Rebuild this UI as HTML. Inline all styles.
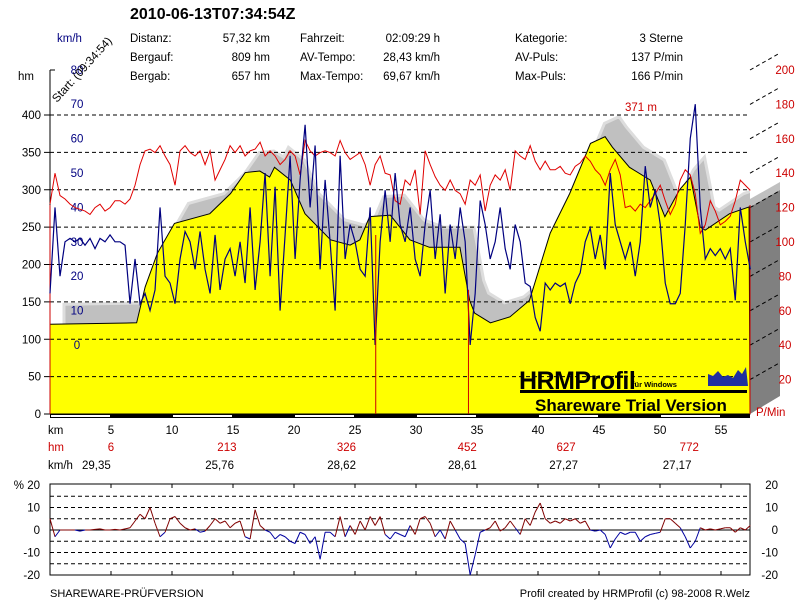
<!DOCTYPE html>
<html><head><meta charset="utf-8"><style>
body{margin:0;background:#fff;}
svg{display:block;font-family:"Liberation Sans",Arial,sans-serif;}
</style></head><body>
<svg id="c" width="800" height="600" viewBox="0 0 800 600">
<defs><clipPath id="plotclip"><rect x="50" y="60" width="700" height="354"/></clipPath></defs>
<rect width="800" height="600" fill="#fff"/>
<text x="130" y="19" font-size="16" font-weight="bold">2010-06-13T07:34:54Z</text>
<g font-size="11.5">
<text x="130" y="42">Distanz:</text><text x="270" y="42" text-anchor="end">57,32 km</text>
<text x="130" y="61">Bergauf:</text><text x="270" y="61" text-anchor="end">809 hm</text>
<text x="130" y="80">Bergab:</text><text x="270" y="80" text-anchor="end">657 hm</text>
<text x="300" y="42">Fahrzeit:</text><text x="440" y="42" text-anchor="end">02:09:29 h</text>
<text x="300" y="61">AV-Tempo:</text><text x="440" y="61" text-anchor="end">28,43 km/h</text>
<text x="300" y="80">Max-Tempo:</text><text x="440" y="80" text-anchor="end">69,67 km/h</text>
<text x="515" y="42">Kategorie:</text><text x="683" y="42" text-anchor="end">3 Sterne</text>
<text x="515" y="61">AV-Puls:</text><text x="683" y="61" text-anchor="end">137 P/min</text>
<text x="515" y="80">Max-Puls:</text><text x="683" y="80" text-anchor="end">166 P/min</text>
</g>
<text x="57" y="42" font-size="11.5" fill="#000080">km/h</text>
<text x="18" y="80" font-size="11.5">hm</text>
<g id="main"></g>
<g id="bottom"></g>
<text x="50" y="597" font-size="11">SHAREWARE-PRÜFVERSION</text>
<text x="750" y="597" font-size="11" text-anchor="end">Profil created by HRMProfil (c) 98-2008 R.Welz</text>
</svg>
<script>
const elevKm=[0,7.1,7.8,8.8,10.2,13.1,14.8,16,17.2,18,18.4,19.7,20.9,23,24.6,25.4,26.2,27.9,29.5,31.1,33.6,34.4,34.8,36.1,37.7,39.3,41,42.6,44.3,45.5,46.1,47.5,49.2,50.4,51.6,52.5,53.3,53.7,55.7,57.3];
const elevHm=[120,122,170,215,255,268,295,323,325,317,330,313,268,233,226,233,264,266,233,223,223,152,135,122,130,152,242,295,362,371,357,330,313,264,300,317,250,246,268,277];
const sampleStepKm=0.41;
const speedKmh=[15,40,20,30,31,30,31,29,31,28,31,30,32,30,30,29,12,25,12,15,10,16,40,20,18,12,25,33,30,22,33,22,15,32,16,25,28,20,30,18,40,16,30,50,20,46,10,32,55,25,48,64,40,58,22,48,30,10,55,25,35,30,22,20,40,0,30,45,30,50,35,30,40,25,20,35,45,25,38,15,35,25,40,30,0,15,42,35,25,30,40,28,22,35,30,18,17,8,4,18,16,18,17,18,12,18,21,30,34,25,32,22,50,35,30,25,30,20,30,52,40,45,35,18,12,12,15,35,60,70,40,25,28,26,28,25,28,13,40,30,22];
const heartRate=[122,140,127,125,122,120,119,118,116,120,122,118,120,124,124,122,125,133,145,153,154,152,156,150,145,133,153,156,152,150,153,145,153,136,142,148,156,152,156,150,153,154,158,150,153,150,145,148,153,150,139,159,153,150,152,153,152,150,159,152,148,150,152,145,133,145,150,140,139,124,122,136,133,142,116,153,145,138,133,130,136,130,128,122,136,133,139,118,133,139,136,142,130,153,150,148,156,147,142,147,142,142,144,140,139,144,146,150,147,142,139,133,142,148,139,120,121,118,122,120,124,128,133,124,116,122,136,142,139,128,105,110,124,118,110,112,115,124,136,133,130];
const gradientPct=[5,-3,0,0,0,0,-0.5,0,0,0.3,0.5,0,0,0.3,0,0.5,1,4,7,5,10,3,-3,-1,5,6,3,1,0,0.5,-1,-0.5,2,5,3,4,1,3,4,-3,-4,9,2,0,-1,-4,-2,-3,-5,-6,-1,-2,-6,-3,-13,-1,-1,-3,6,-3,2,-2,4,0,6,2,6,-2,-4,-1,-2,-3,2,-2,5,6,3,-3,0,-4,4,0,-4,-6,-20,-11,-1,0,1,4,-0.5,1,4,1,-2,5,2,8,12,5,3,4,3,5,4,5,3,4,0,-0.5,0,-2,-8,-4,-1,-2,-1,-1,-5,-3,-2,-1.5,-1,5,5,3,1,-3,-8,-5,1,0,0.5,0,0.5,1,1,-1,1,0,2];
const hmTicks=[0,50,100,150,200,250,300,350,400];
const speedTicks=[0,10,20,30,40,50,60,70,80];
const pulseTicks=[20,40,60,80,100,120,140,160,180,200];
const kmTicks=[5,10,15,20,25,30,35,40,45,50,55];
const segHm=[[6,5],[213,14.5],[326,24.3],[452,34.2],[627,42.3],[772,52.4]];
const segSpeed=[["29,35",3.8],["25,76",13.9],["28,62",23.9],["28,61",33.8],["27,27",42.1],["27,17",51.4]];
const gradTicks=[-20,-10,0,10,20];
const markerKm=[26.7,34.3];

const NS="http://www.w3.org/2000/svg";
const X=km=>50+km*12.2;
const Yh=h=>414-h*0.7475;
const Ys=v=>345-v*3.44;
const Yp=b=>414-b*1.72;
const Yg=g=>530-g*2.25;
function mk(tag,attrs,parent,txt){const e=document.createElementNS(NS,tag);for(const k in attrs)e.setAttribute(k,attrs[k]);if(txt!==undefined)e.textContent=txt;parent.appendChild(e);return e;}
const M=document.getElementById('main'), B=document.getElementById('bottom');

// right 3D panel
mk('polygon',{points:"750,199 780,182 780,190 750,207",fill:"#c0c0c0"},M);
let p=mk('polygon',{points:"750,207 780,190 780,396 750,414",fill:"#808080"},M);


// shadow
let pts=elevKm.map((k,i)=>(X(k)+14)+","+(Yh(elevHm[i])-20)).join(" ");
let sh=mk('polygon',{points:"64,394 "+pts+" 764,394",fill:"#c0c0c0",stroke:"#ddd","stroke-width":3,"clip-path":"url(#plotclip)"},M);


// elevation fill
pts=elevKm.map((k,i)=>X(k)+","+Yh(elevHm[i])).join(" ");
let el=mk('polygon',{points:"50,414 "+pts+" 750,414",fill:"#ffff00",stroke:"#000","stroke-width":1},M);


// grid
hmTicks.forEach(h=>{
  if(h>0){let g=mk('line',{x1:50,x2:750,y1:Yh(h),y2:Yh(h),stroke:"#000","stroke-dasharray":"4,3","stroke-width":1},M);
  
  }
  mk('line',{x1:44,x2:50,y1:Yh(h),y2:Yh(h),stroke:"#000"},M);
  let t=mk('text',{x:41,y:Yh(h)+4,"font-size":11.5,"text-anchor":"end"},M,h);
  
  
});
mk('line',{x1:50,x2:50,y1:70,y2:414,stroke:"#000"},M);
mk('line',{x1:50,x2:55,y1:70,y2:70,stroke:"#000"},M);
speedTicks.forEach(v=>{let t=mk('text',{x:77,y:Ys(v)+4,"font-size":11.5,fill:"#000080","text-anchor":"middle"},M,v);
  
  });
pulseTicks.forEach(b=>{
  mk('line',{x1:750,y1:Yp(b),x2:780,y2:Yp(b)-17,stroke:"#000","stroke-dasharray":"4,3"},M);
  let t=mk('text',{x:785,y:Yp(b)+4,"font-size":11.5,fill:"#cc0000","text-anchor":"middle"},M,b);
  
  });
mk('text',{x:756,y:416,"font-size":11.5,fill:"#cc0000"},M,"P/Min");
mk('line',{x1:750,x2:750,y1:205,y2:414,stroke:"#cc0000"},M);
mk('line',{x1:50,x2:50,y1:205,y2:414,stroke:"#cc0000"},M);
// heart rate
let hr=mk('polyline',{points:heartRate.map((b,i)=>X(i*sampleStepKm)+","+Yp(b)).join(" "),fill:"none",stroke:"#e00000","stroke-width":1},M);


// speed
let sp=mk('polyline',{points:speedKmh.map((v,i)=>X(i*sampleStepKm)+","+Ys(v)).join(" "),fill:"none",stroke:"#000080","stroke-width":1.2},M);


markerKm.forEach((k,i)=>{let m=mk('line',{x1:X(k),x2:X(k),y1:i?290:235,y2:414,stroke:"#cc0000"},M);
  
  });
// x axis band
mk('rect',{x:50,y:414,width:700,height:4,fill:"#000"},M);
for(let k=0;k<57;k+=10){mk('rect',{x:X(k)+1,y:415,width:59,height:2,fill:"#fff"},M);}
mk('text',{x:48,y:434,"font-size":11.5},M,"km");
kmTicks.forEach(k=>{let t=mk('text',{x:X(k),y:434,"font-size":11.5,"text-anchor":"middle"},M,k);
  
  });
mk('text',{x:48,y:451,"font-size":11.5,fill:"#cc0000"},M,"hm");
segHm.forEach(s=>{let t=mk('text',{x:X(s[1]),y:451,"font-size":11.5,fill:"#cc0000","text-anchor":"middle"},M,s[0]);
  
  });
mk('text',{x:48,y:469,"font-size":11.5},M,"km/h");
segSpeed.forEach(s=>{let t=mk('text',{x:X(s[1]),y:469,"font-size":11.5,"text-anchor":"middle"},M,s[0]);
  
  });
// labels
mk('text',{x:625,y:111,"font-size":11.5,fill:"#cc0000"},M,"371 m");
let st=mk('text',{x:0,y:0,"font-size":11.5,transform:"translate(57,103) rotate(-48)"},M,"Start: (09:34:54)");


// logo
let lg=mk('g',{},M);


mk('text',{x:519,y:389,"font-size":25,"font-weight":"bold","letter-spacing":"-0.5"},lg,"HRMProfil");
mk('text',{x:632,y:387,"font-size":7.5,"font-weight":"bold"},lg,"für Windows");
mk('rect',{x:520,y:390,width:227,height:3,fill:"#000"},lg);
mk('polygon',{points:"708,386 708,374 713,376 718,371 723,377 728,375 733,378 738,370 742,374 746,367 748,386",fill:"#2030a0"},lg);
mk('text',{x:535,y:411,"font-size":17,"font-weight":"bold"},lg,"Shareware Trial  Version");
// bottom chart
mk('rect',{x:50,y:484,width:700,height:91,fill:"none",stroke:"#000"},B);
[-15,-10,-5,5,10,15].forEach(g=>mk('line',{x1:50,x2:750,y1:Yg(g),y2:Yg(g),stroke:"#000","stroke-dasharray":"4,3"},B));
mk('line',{x1:50,x2:750,y1:Yg(0),y2:Yg(0),stroke:"#000"},B);
kmTicks.forEach(k=>{mk('line',{x1:X(k),x2:X(k),y1:484,y2:488,stroke:"#000"},B);mk('line',{x1:X(k),x2:X(k),y1:571,y2:575,stroke:"#000"},B);});
gradTicks.forEach(g=>{
  let t=mk('text',{x:40,y:Yg(g)+4,"font-size":11.5,"text-anchor":"end"},B,(g===20?"% ":"")+g);
  
  
  mk('text',{x:778,y:Yg(g)+4,"font-size":11.5,"text-anchor":"end"},B,g);});
for(let i=1;i<gradientPct.length;i++){
  const a=gradientPct[i-1],b=gradientPct[i];
  let s=mk('line',{x1:X((i-1)*sampleStepKm),y1:Math.min(575,Yg(a)),x2:X(i*sampleStepKm),y2:Math.min(575,Yg(b)),stroke:(a+b)/2>=0?"#800000":"#0000a0","stroke-width":1},B);
  
  
}
</script>
</body></html>
